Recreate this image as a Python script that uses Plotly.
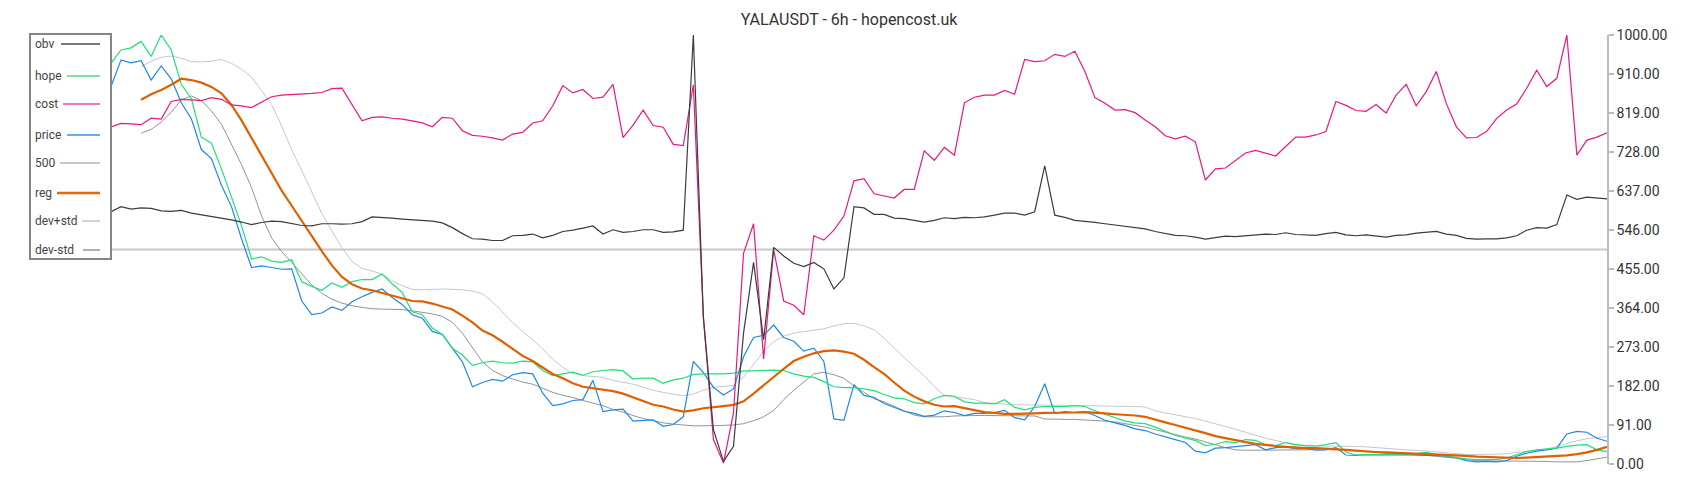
import plotly.graph_objects as go

title_text = "YALAUSDT - 6h - hopencost.uk"
y_ticks = [0, 91, 182, 273, 364, 455, 546, 637, 728, 819, 910, 1000]
y_tick_labels = [f"{v:.2f}" for v in y_ticks]
level_500 = 500

obv = [588, 600, 594, 597, 596, 590, 589, 591, 585, 581,
       578, 573, 569, 564, 558, 563, 566, 565, 561, 556,
       555, 560, 560, 559, 560, 565, 576, 575, 573, 571,
       569, 567, 566, 562, 551, 537, 525, 524, 521, 521,
       532, 533, 536, 527, 533, 542, 545, 550, 555, 536,
       546, 540, 542, 546, 546, 540, 541, 545, 1000, 340,
       80, 6, 41, 305, 470, 290, 505, 485, 468, 460,
       470, 455, 408, 434, 600, 597, 582, 582, 573, 572,
       568, 564, 568, 574, 572, 575, 574, 576, 580, 585,
       585, 580, 588, 695, 580, 575, 568, 566, 563, 560,
       557, 555, 552, 548, 542, 538, 533, 532, 529, 524,
       528, 531, 530, 532, 535, 536, 535, 539, 535, 534,
       533, 537, 540, 534, 532, 534, 531, 529, 533, 534,
       538, 540, 542, 536, 533, 526, 524, 525, 525, 527,
       532, 545, 551, 550, 558, 627, 617, 622, 620, 618]

hope = [934, 965, 970, 985, 950, 1000, 965, 885, 852, 762,
        748, 688, 622, 555, 478, 483, 473, 470, 476, 425,
        414, 405, 422, 412, 425, 430, 430, 443, 420, 400,
        355, 348, 317, 302, 270, 254, 230, 236, 240, 236,
        235, 240, 238, 218, 206, 210, 214, 207, 215, 218,
        220, 217, 198, 200, 200, 188, 196, 200, 209, 210,
        210, 210, 212, 217, 217, 218, 219, 218, 210, 205,
        202, 192, 180, 178, 178, 175, 171, 162, 154, 152,
        143, 140, 152, 160, 158, 145, 142, 142, 140, 150,
        132, 126, 132, 134, 134, 134, 136, 134, 124, 116,
        107, 100, 96, 94, 86, 76, 67, 60, 55, 43,
        46, 52, 50, 57, 55, 45, 43, 50, 45, 43,
        42, 45, 50, 28, 21, 22, 22, 23, 22, 23,
        24, 27, 22, 18, 15, 12, 10, 10, 10, 14,
        22, 29, 33, 35, 37, 41, 44, 45, 33, 29]

cost = [786, 794, 793, 791, 806, 804, 845, 850, 849, 847,
        854, 850, 837, 835, 831, 843, 856, 860, 861, 862,
        864, 866, 875, 876, 839, 800, 808, 809, 806, 804,
        800, 795, 786, 808, 806, 777, 766, 764, 760, 755,
        769, 773, 795, 800, 835, 882, 865, 873, 852, 855,
        885, 761, 790, 825, 789, 785, 745, 742, 884, 344,
        57, 2, 119, 491, 560, 245, 500, 380, 370, 348,
        532, 522, 545, 578, 660, 665, 630, 625, 620, 640,
        640, 730, 708, 738, 720, 842, 855, 860, 860, 871,
        862, 943, 938, 940, 955, 950, 962, 915, 854, 841,
        825, 826, 819, 802, 786, 765, 758, 764, 751, 662,
        688, 690, 708, 725, 731, 725, 718, 740, 762, 762,
        767, 775, 845, 836, 824, 822, 838, 818, 860, 885,
        835, 868, 915, 840, 786, 760, 761, 775, 805, 825,
        839, 876, 918, 880, 899, 1000, 720, 755, 762, 772]

price = [880, 942, 935, 940, 895, 928, 898, 842, 805, 733,
         712, 650, 600, 525, 458, 462, 458, 454, 455, 380,
         348, 352, 366, 358, 378, 390, 400, 408, 388, 372,
         348, 340, 309, 302, 270, 238, 180, 190, 197, 193,
         208, 213, 210, 165, 136, 140, 148, 150, 195, 122,
         126, 128, 100, 102, 103, 88, 92, 110, 239, 213,
         179, 161, 175, 250, 295, 300, 324, 295, 286, 263,
         270, 239, 105, 102, 185, 160, 155, 141, 132, 123,
         118, 111, 114, 124, 120, 113, 118, 118, 120, 125,
         108, 103, 134, 187, 118, 122, 120, 122, 113, 102,
         96, 90, 82, 78, 70, 64, 57, 50, 30, 26,
         37, 38, 40, 43, 45, 33, 38, 40, 36, 36,
         32, 33, 38, 21, 20, 22, 22, 21, 22, 22,
         21, 20, 20, 18, 15, 8, 5, 6, 5, 8,
         18, 25, 30, 33, 37, 70, 76, 74, 60, 53]

reg = [None, None, None, 849, 862, 872, 884, 898, 895, 889,
       879, 864, 837, 801, 760, 716, 678, 637, 602, 566,
       532, 496, 463, 436, 419, 409, 405, 399, 393, 386,
       380, 379, 374, 367, 360, 346, 330, 311, 300, 285,
       268, 252, 240, 226, 210, 200, 188, 180, 177, 174,
       170, 164, 155, 146, 138, 134, 127, 122, 125, 130,
       132, 135, 138, 146, 164, 184, 204, 222, 240, 250,
       258, 263, 265, 262, 257, 243, 226, 210, 190, 171,
       157, 146, 138, 134, 135, 130, 125, 121, 119, 117,
       117, 117, 118, 119, 119, 119, 120, 121, 120, 118,
       116, 115, 113, 110, 103, 97, 91, 85, 78, 72,
       65, 60, 55, 51, 47, 44, 42, 40, 38, 37,
       37, 36, 34, 33, 31, 29, 28, 27, 26, 26,
       25, 24, 23, 22, 21, 19, 17, 16, 15, 14,
       14, 15, 16, 17, 18, 20, 23, 27, 33, 40]

dev_plus_std = [None, None, None, 926, 939, 948, 951, 946, 938, 937,
                939, 943, 934, 920, 902, 870, 838, 788, 732, 684,
                635, 584, 543, 504, 472, 456, 450, 442, 427, 416,
                407, 406, 407, 408, 407, 406, 403, 397, 378, 354,
                330, 309, 290, 268, 244, 225, 211, 206, 204, 202,
                195, 190, 186, 179, 172, 167, 163, 159, 163, 172,
                179, 181, 183, 202, 232, 262, 285, 298, 305, 309,
                312, 315, 322, 327, 328, 322, 313, 293, 270, 248,
                226, 206, 180, 160, 157, 153, 150, 143, 141, 139,
                138, 138, 137, 137, 137, 137, 136, 136, 136, 135,
                135, 135, 134, 133, 124, 119, 115, 111, 106, 100,
                94, 87, 81, 74, 67, 60, 55, 50, 44, 42,
                42, 42, 42, 42, 41, 40, 38, 36, 34, 33,
                32, 30, 28, 25, 23, 22, 22, 22, 23, 24,
                27, 29, 32, 35, 41, 48, 54, 59, 62, 64]

dev_minus_std = [None, None, None, 771, 780, 797, 820, 849, 858, 847,
                 823, 792, 745, 698, 644, 578, 527, 495, 470, 443,
                 417, 398, 384, 375, 369, 365, 362, 361, 361, 360,
                 357, 354, 350, 344, 330, 305, 270, 238, 218, 206,
                 198, 191, 186, 176, 167, 160, 155, 148, 142, 136,
                 127, 121, 113, 106, 101, 96, 93, 91, 89, 89,
                 89, 90, 91, 94, 101, 110, 125, 150, 172, 190,
                 210, 214, 208, 200, 182, 167, 152, 145, 134, 124,
                 114, 110, 110, 110, 112, 113, 113, 113, 113, 113,
                 113, 113, 112, 105, 104, 104, 104, 103, 102, 100,
                 98, 94, 90, 86, 80, 74, 69, 63, 58, 52,
                 45, 38, 33, 32, 32, 32, 32, 32, 33, 33,
                 34, 35, 34, 32, 30, 29, 27, 25, 24, 22,
                 21, 20, 18, 16, 14, 11, 8, 7, 7, 7,
                 7, 6, 6, 6, 5, 5, 5, 8, 12, 16]

n = len(obv)
x = list(range(n))

FONT = "Roboto, Arial, sans-serif"
# page offset of the figure inside the browser window (default body margin)
OFF = 8
W, H = 1684, 484
# plot area in window pixels
PL, PR, PT, PB = 111, 1607, 35, 464

series = [
    # name, data, plot colour, width, legend colour, legend width, legend y(px), legend line start(px)
    ("500", [level_500] * n, "#c8c8c8", 2, "#c8c8c8", 2, 163, 60),
    ("dev+std", dev_plus_std, "#c3c8cd", 1, "#d0d4d8", 2, 221, 82),
    ("dev-std", dev_minus_std, "#8e969d", 1, "#a9b1b9", 2, 250, 83),
    ("price", price, "#1e88e5", 1.2, "#6aade6", 2, 135, 67),
    ("hope", hope, "#1ee07a", 1.2, "#7fe3a6", 2, 76, 67),
    ("reg", reg, "#e06000", 2.2, "#e06a10", 2.5, 193, 57),
    ("cost", cost, "#e8197f", 1.2, "#ea7ab6", 2, 104, 63),
    ("obv", obv, "#3c3c3c", 1.2, "#777777", 2, 44, 61),
]

fig = go.Figure()
for name, data, col, w, *_ in series:
    fig.add_trace(go.Scatter(x=x, y=data, mode="lines", name=name,
                             line=dict(color=col, width=w),
                             connectgaps=False, showlegend=False,
                             hoverinfo="skip"))


def px_x(p):
    return (p - PL) / (PR - PL)


def px_y(p):
    return (PB - p) / (PB - PT)


shapes = [dict(type="rect", xref="paper", yref="paper",
               x0=px_x(30), x1=px_x(111), y0=px_y(259), y1=px_y(34),
               line=dict(color="#858585", width=2), fillcolor="white",
               layer="above")]
annotations = []
for name, data, col, w, lcol, lw, ly, lx0 in series:
    shapes.append(dict(type="line", xref="paper", yref="paper",
                       x0=px_x(lx0), x1=px_x(100), y0=px_y(ly), y1=px_y(ly),
                       line=dict(color=lcol, width=lw), layer="above"))
    annotations.append(dict(xref="paper", yref="paper", x=px_x(34), y=px_y(ly),
                            xanchor="left", yanchor="middle", text=name,
                            showarrow=False, borderpad=0,
                            font=dict(family=FONT, size=12, color="#444444")))

fig.update_layout(
    width=W, height=H,
    margin=dict(l=PL - OFF, r=W - (PR - OFF), t=PT - OFF, b=H - (PB - OFF)),
    paper_bgcolor="white", plot_bgcolor="white",
    title=dict(text=title_text, x=(849 - OFF) / W, xref="container", xanchor="center",
               y=1 - (19.5 - OFF) / H, yref="container", yanchor="middle",
               font=dict(family=FONT, size=16, color="#333333")),
    xaxis=dict(visible=False, range=[0, n - 1]),
    yaxis=dict(side="right", range=[0, 1000], tickvals=y_ticks,
               ticktext=y_tick_labels, showgrid=False, zeroline=False,
               showline=True, linecolor="#b4bcc4", linewidth=1.5,
               ticks="outside", ticklen=5, tickcolor="#b4bcc4", tickwidth=1.5,
               tickfont=dict(family=FONT, size=14, color="#333333")),
    shapes=shapes, annotations=annotations,
    showlegend=False,
)

fig.write_html("out.html")
